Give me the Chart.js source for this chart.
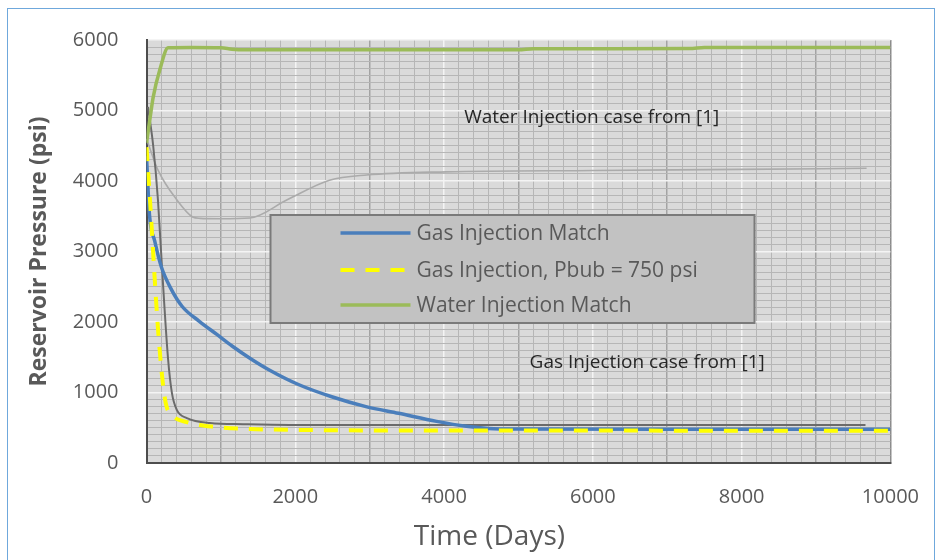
<!DOCTYPE html>
<html>
<head>
<meta charset="utf-8">
<title>Reservoir Pressure</title>
<script src="https://cdn.jsdelivr.net/npm/chart.js@4.4.1/dist/chart.umd.min.js"></script>
<style>
  html, body { margin: 0; padding: 0; background: #fff; }
  #wrap { position: relative; width: 941px; height: 560px; overflow: hidden; }
  #frame { position: absolute; left: 7px; top: 8px; width: 928px; height: 570px; border: 1px solid #6fa8dc; box-sizing: border-box; }
  #pressureChart { position: absolute; left: 0; top: 0; }
</style>
</head>
<body>
<div id="wrap">
  <div id="frame"></div>
  <canvas id="pressureChart" width="941" height="560"></canvas>
</div>
<script>
// Axis ticks that carry a label
var xTickLabels = [0, 2000, 4000, 6000, 8000, 10000];
var yTickLabels = [0, 1000, 2000, 3000, 4000, 5000, 6000];

// Gas Injection Match
var gasDays = [0, 40, 110, 200, 330, 480, 710, 950, 1150, 1400, 1650, 2050, 2490, 2950, 3390, 3900, 4300, 4600, 5000, 7000, 10000];
var gasPsi  = [4350, 3520, 3150, 2780, 2470, 2220, 2010, 1820, 1660, 1480, 1320, 1110, 940, 800, 705, 590, 520, 490, 482, 480, 478];

// Gas Injection, Pbub = 750 psi
var pbubDays = [0, 47, 114, 159, 225, 270, 338, 540, 940, 1390, 2000, 3000, 5000, 10000];
var pbubPsi  = [4480, 3730, 2550, 1840, 1080, 800, 680, 580, 510, 482, 470, 462, 460, 458];

// Water Injection Match
var waterDays = [0, 45, 90, 180, 290, 600, 1000, 1150, 1300, 3000, 5000, 5200, 7300, 7500, 10000];
var waterPsi  = [4540, 4870, 5190, 5580, 5890, 5895, 5890, 5870, 5860, 5860, 5860, 5875, 5880, 5895, 5895];

// Published cases from [1]
var refWaterDays = [0, 155, 410, 620, 720, 1000, 1390, 1885, 2460, 2960, 4030, 6000, 8000, 9680];
var refWaterPsi  = [4600, 4155, 3730, 3490, 3470, 3465, 3475, 3730, 4010, 4085, 4130, 4150, 4165, 4180];
var refGasDays = [20, 90, 154, 208, 288, 342, 409, 543, 852, 1300, 1925, 4000, 9665];
var refGasPsi  = [5050, 4500, 3730, 2780, 1500, 990, 750, 638, 567, 550, 540, 540, 540];

function toPoints(xs, ys) {
  return xs.map(function(x, i) { return { x: x, y: ys[i] }; });
}

var FONT = '"Open Sans", "Liberation Sans", sans-serif';

// gray plot area behind the grid
var plotBackground = {
  id: 'plotBackground',
  beforeDraw: function(chart) {
    var a = chart.chartArea, ctx = chart.ctx;
    ctx.save();
    ctx.fillStyle = '#dadada';
    ctx.fillRect(a.left, a.top, a.right - a.left, a.bottom - a.top);
    ctx.restore();
  }
};

// text labels for the two published curves
var caseNotes = {
  id: 'caseNotes',
  afterDatasetsDraw: function(chart) {
    var ctx = chart.ctx, xs = chart.scales.x, ys = chart.scales.y;
    var spots = { refWater: [4270, 4905], refGas: [5150, 1430] };
    ctx.save();
    ctx.font = '19px ' + FONT;
    ctx.fillStyle = '#262626';
    ctx.textBaseline = 'middle';
    chart.data.datasets.forEach(function(ds) {
      var s = spots[ds.key];
      if (!s) return;
      ctx.fillText(ds.label, xs.getPixelForValue(s[0]), ys.getPixelForValue(s[1]));
    });
    ctx.restore();
  }
};

// x axis title, set a little left of the plot centre
var timeTitle = {
  id: 'timeTitle',
  afterDraw: function(chart) {
    var ctx = chart.ctx, a = chart.chartArea;
    ctx.save();
    ctx.font = '28px ' + FONT;
    ctx.fillStyle = '#595959';
    ctx.textAlign = 'center';
    ctx.textBaseline = 'middle';
    ctx.fillText('Time (Days)', (a.left + a.right) / 2 - 29, 537);
    ctx.restore();
  }
};

// boxed legend sitting inside the plot
var legendBox = {
  id: 'legendBox',
  afterDatasetsDraw: function(chart) {
    var ctx = chart.ctx, a = chart.chartArea;
    var x0 = a.left + 124, y0 = a.top + 175, w = 484, h = 108;
    var rows = [18, 55, 90];
    ctx.save();
    ctx.fillStyle = '#c2c2c2';
    ctx.fillRect(x0, y0, w, h);
    ctx.strokeStyle = '#7a7a7a';
    ctx.lineWidth = 2;
    ctx.strokeRect(x0, y0, w, h);
    ctx.font = '21px ' + FONT;
    ctx.textBaseline = 'middle';
    var items = chart.data.datasets.filter(function(ds) { return ds.inLegend; });
    items.forEach(function(ds, i) {
      var y = y0 + rows[i];
      ctx.beginPath();
      ctx.strokeStyle = ds.borderColor;
      ctx.lineWidth = ds.borderWidth;
      ctx.setLineDash(ds.borderDash || []);
      ctx.moveTo(x0 + 70, y);
      ctx.lineTo(x0 + 140, y);
      ctx.stroke();
      ctx.setLineDash([]);
      ctx.fillStyle = '#595959';
      ctx.fillText(ds.label, x0 + 146, y + 1);
    });
    ctx.restore();
  }
};

function lineSet(opts) {
  return Object.assign({
    showLine: true,
    pointRadius: 0,
    fill: false,
    cubicInterpolationMode: 'monotone'
  }, opts);
}

var ctx = document.getElementById('pressureChart').getContext('2d');
var chart = new Chart(ctx, {
  type: 'scatter',
  data: {
    datasets: [
      lineSet({ label: 'Gas Injection Match', inLegend: true, data: toPoints(gasDays, gasPsi),
        borderColor: '#4a7ebb', borderWidth: 3.5, order: 2 }),
      lineSet({ label: 'Gas Injection, Pbub = 750 psi', inLegend: true, data: toPoints(pbubDays, pbubPsi),
        borderColor: '#ffff00', borderWidth: 4, borderDash: [14, 11], order: 1 }),
      lineSet({ label: 'Water Injection Match', inLegend: true, data: toPoints(waterDays, waterPsi),
        borderColor: '#9bbb59', borderWidth: 3.5, order: 0 }),
      lineSet({ label: 'Water Injection case from [1]', key: 'refWater', data: toPoints(refWaterDays, refWaterPsi),
        borderColor: '#ababab', borderWidth: 1.6, order: 4 }),
      lineSet({ label: 'Gas Injection case from [1]', key: 'refGas', data: toPoints(refGasDays, refGasPsi),
        borderColor: '#6b6b6b', borderWidth: 2, order: 3 })
    ]
  },
  options: {
    responsive: false,
    animation: false,
    layout: { padding: { left: 8, right: 49, top: 40, bottom: 0 } },
    plugins: {
      legend: { display: false },
      tooltip: { enabled: false }
    },
    scales: {
      x: {
        type: 'linear',
        min: 0,
        max: 10000,
        afterFit: function(scale) { scale.height = 97; },
        ticks: {
          stepSize: 200,
          maxTicksLimit: 100,
          autoSkip: false,
          maxRotation: 0,
          padding: 22,
          color: '#595959',
          font: { family: FONT, size: 20 },
          callback: function(v) { return xTickLabels.indexOf(v) >= 0 ? String(v) : ''; }
        },
        grid: {
          drawTicks: false,
          color: function(c) {
            var v = c.tick ? c.tick.value : 0;
            if (v === 10000) return '#8c8c8c';
            if (v % 2000 === 0) return '#f4f4f4';
            if (v % 1000 === 0) return '#a3a3a3';
            return '#b6b6b6';
          },
          lineWidth: function(c) {
            var v = c.tick ? c.tick.value : 0;
            return v % 1000 === 0 ? 1.5 : 1;
          }
        },
        border: { display: true, color: '#4d4d4d', width: 2 },
        title: { display: false }
      },
      y: {
        type: 'linear',
        min: 0,
        max: 6000,
        afterFit: function(scale) { scale.width = 138.5; },
        ticks: {
          stepSize: 100,
          maxTicksLimit: 100,
          autoSkip: false,
          padding: 28,
          color: '#595959',
          font: { family: FONT, size: 20 },
          callback: function(v) { return yTickLabels.indexOf(v) >= 0 ? String(v) : ''; }
        },
        grid: {
          drawTicks: false,
          color: function(c) {
            var v = c.tick ? c.tick.value : 0;
            if (v % 1000 === 0) return '#f4f4f4';
            return '#b6b6b6';
          },
          lineWidth: function(c) {
            var v = c.tick ? c.tick.value : 0;
            return v % 1000 === 0 ? 1.5 : 1;
          }
        },
        border: { display: true, color: '#4d4d4d', width: 2 },
        title: {
          display: true,
          text: 'Reservoir Pressure (psi)',
          color: '#595959',
          font: { family: FONT, size: 23, weight: 'bold' },
          padding: { top: 18, bottom: 0 }
        }
      }
    }
  },
  plugins: [plotBackground, caseNotes, legendBox, timeTitle]
});
</script>
</body>
</html>
